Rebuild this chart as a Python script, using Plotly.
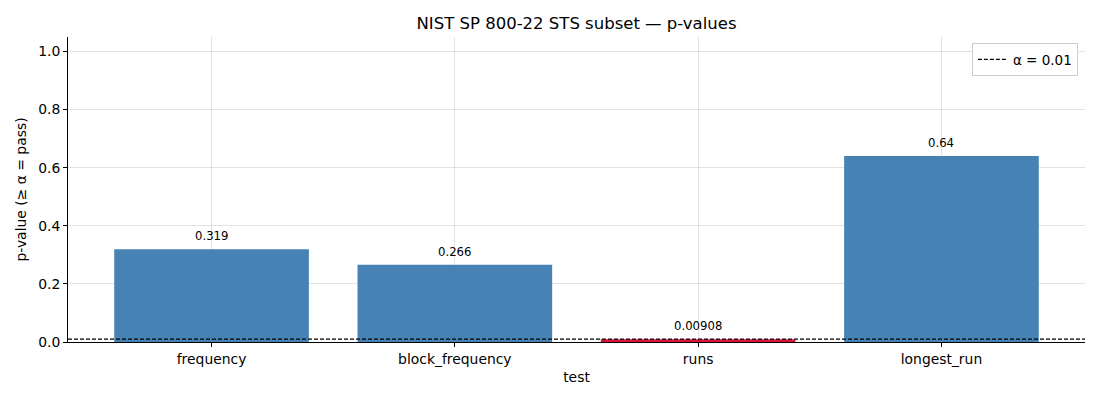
import plotly.graph_objects as go

tests = ["frequency", "block_frequency", "runs", "longest_run"]
p_values = [0.319, 0.266, 0.00908, 0.64]
alpha = 0.01
labels = ["0.319", "0.266", "0.00908", "0.64"]

colors = ["#dc143c" if p < alpha else "#4682b4" for p in p_values]

fig = go.Figure()
fig.add_trace(go.Bar(
    x=tests, y=p_values, marker=dict(color=colors, line=dict(width=0)),
    width=0.8, showlegend=False, hoverinfo="x+y",
))

for t, p, lab in zip(tests, p_values, labels):
    fig.add_annotation(x=t, y=p, text=lab, showarrow=False, yshift=13,
                       font=dict(size=11.7, color="black"))

fig.add_shape(type="line", xref="paper", x0=0, x1=1, yref="y", y0=alpha, y1=alpha,
              line=dict(color="black", width=1.1, dash="4px,2px"),
              showlegend=True, name="α = 0.01", layer="above")

fig.update_layout(
    width=1100, height=400,
    margin=dict(l=58, r=23, t=29, b=66),
    paper_bgcolor="white", plot_bgcolor="white",
    font=dict(family="DejaVu Sans", size=13.9, color="black"),
    title=dict(text="NIST SP 800-22 STS subset — p-values", x=0.5, xanchor="center",
               xref="paper", y=0.9625, yanchor="middle", font=dict(size=16.5)),
    bargap=0.2,
    xaxis=dict(title=dict(text="test", standoff=6, font=dict(size=13.9)), range=[-0.59, 3.59],
               showline=True, linecolor="black", linewidth=1, ticks="outside",
               ticklen=4, tickcolor="black", showgrid=True, tickfont=dict(size=13.9),
               gridcolor="rgba(160,160,160,0.3)", gridwidth=1, layer="above traces"),
    yaxis=dict(title=dict(text="p-value (≥ α = pass)", standoff=8, font=dict(size=13.9)),
               range=[0, 1.05], tickfont=dict(size=13.9),
               tickvals=[0, 0.2, 0.4, 0.6, 0.8, 1.0], tickformat=".1f",
               showline=True, linecolor="black", linewidth=1, ticks="outside",
               ticklen=4, tickcolor="black", showgrid=True,
               gridcolor="rgba(160,160,160,0.3)", gridwidth=1, zeroline=False,
               layer="above traces"),
    legend=dict(x=0.993, y=0.98, xanchor="right", yanchor="top",
                bgcolor="white", bordercolor="#cccccc", borderwidth=1,
                font=dict(size=13.5), tracegroupgap=0),
)

fig.write_html("out.html")
